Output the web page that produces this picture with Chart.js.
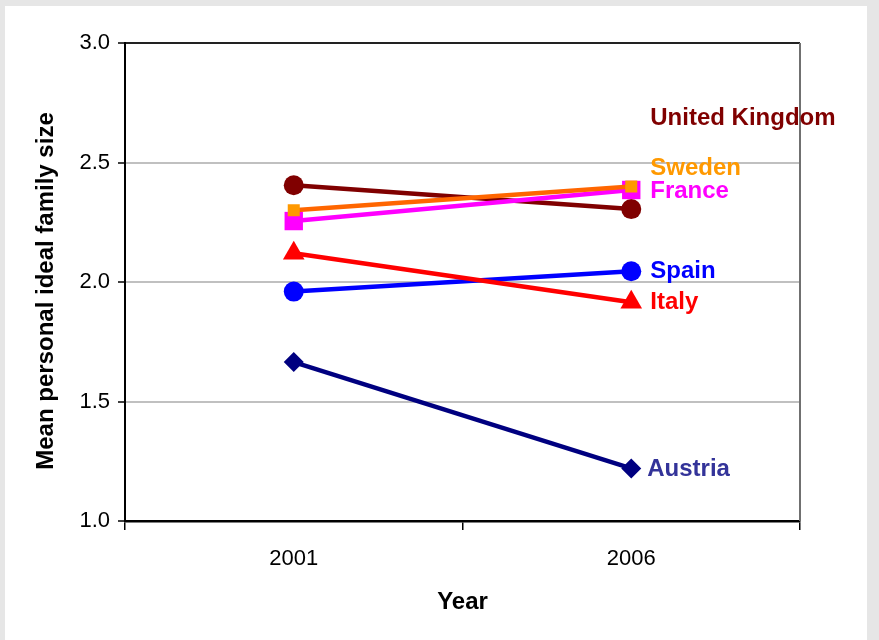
<!DOCTYPE html>
<html>
<head>
<meta charset="utf-8">
<script src="https://cdn.jsdelivr.net/npm/chart.js@4.4.1/dist/chart.umd.min.js"></script>
<style>
html,body{margin:0;padding:0;background:#e6e6e6;}
canvas{display:block;}
</style>
</head>
<body>
<canvas id="c" width="879" height="640"></canvas>
<script>
const years = ['2001', '2006'];
const countries = ['Sweden', 'France', 'United Kingdom', 'Italy', 'Spain', 'Austria'];
const sweden = [2.30, 2.40];
const france = [2.255, 2.385];
const unitedKingdom = [2.405, 2.305];
const italy = [2.12, 1.915];
const spain = [1.96, 2.045];
const austria = [1.665, 1.22];
const labelValues = [2.477, 2.381, 2.686, 1.916, 2.046, 1.218];
const yTicks = [1.0, 1.5, 2.0, 2.5, 3.0];

const lineColors = ['#FF6600', '#FF00FF', '#800000', '#FF0000', '#0000FF', '#000080'];
const pointColors = ['#FF9900', '#FF00FF', '#800000', '#FF0000', '#0000FF', '#000080'];
const labelColors = ['#FF9900', '#FF00FF', '#800000', '#FF0000', '#0000FF', '#333399'];
const pointStyles = ['rect', 'rect', 'circle', 'triangle', 'circle', 'rectRot'];
const pointRadii = [8.5, 13, 10, 12.5, 10, 10];
const seriesValues = [sweden, france, unitedKingdom, italy, spain, austria];

const FONT = '"Liberation Sans", Arial, sans-serif';

const bgPlugin = {
  id: 'bg',
  beforeDraw(chart) {
    const ctx = chart.ctx;
    ctx.save();
    ctx.fillStyle = '#e6e6e6';
    ctx.fillRect(0, 0, chart.width, chart.height);
    ctx.fillStyle = '#ffffff';
    ctx.fillRect(5, 6, 862, chart.height - 6);
    ctx.restore();
  },
  beforeDatasetsDraw(chart) {
    const ctx = chart.ctx;
    const a = chart.chartArea;
    ctx.save();
    ctx.strokeStyle = '#707070';
    ctx.lineWidth = 2;
    ctx.beginPath();
    ctx.moveTo(a.right, a.top);
    ctx.lineTo(a.right, a.bottom);
    ctx.stroke();
    ctx.restore();
  },
  afterDraw(chart) {
    const ctx = chart.ctx;
    const xs = chart.scales.x, ys = chart.scales.y;
    const a = chart.chartArea;
    ctx.save();
    ctx.font = 'bold 24px ' + FONT;
    ctx.textBaseline = 'middle';
    ctx.textAlign = 'left';
    countries.forEach((name, i) => {
      ctx.fillStyle = labelColors[i];
      const dx = name === 'Austria' ? 16 : 19;
      ctx.fillText(name, xs.getPixelForValue(1) + dx, ys.getPixelForValue(labelValues[i]));
    });
    ctx.fillStyle = '#000';
    ctx.font = 'bold 24px ' + FONT;
    ctx.textAlign = 'center';
    ctx.textBaseline = 'alphabetic';
    ctx.fillText('Year', (a.left + a.right) / 2, 609);
    ctx.translate(53, 291);
    ctx.rotate(-Math.PI / 2);
    ctx.fillText('Mean personal ideal family size', 0, 0);
    ctx.restore();
  }
};

new Chart(document.getElementById('c'), {
  type: 'line',
  data: {
    labels: years,
    datasets: countries.map((name, i) => ({
      label: name,
      data: seriesValues[i],
      borderColor: lineColors[i],
      backgroundColor: pointColors[i],
      pointBackgroundColor: pointColors[i],
      pointBorderColor: pointColors[i],
      pointBorderWidth: 0,
      pointStyle: pointStyles[i],
      pointRadius: pointRadii[i],
      pointHoverRadius: pointRadii[i],
      borderWidth: 4.5,
      fill: false,
      tension: 0
    }))
  },
  options: {
    responsive: false,
    animation: false,
    devicePixelRatio: 1,
    layout: { padding: { left: 0, top: 43, right: 79, bottom: 0 } },
    plugins: { legend: { display: false }, tooltip: { enabled: false }, title: { display: false } },
    scales: {
      x: {
        type: 'category',
        offset: true,
        afterFit(s) { s.height = 119; },
        grid: { offset: true, drawOnChartArea: false, drawTicks: true, tickLength: 9, color: '#000', lineWidth: 1.5 },
        border: { display: true, color: '#000', width: 2.5 },
        ticks: { color: '#000', font: { family: FONT, size: 22 }, padding: 16, maxRotation: 0 }
      },
      y: {
        min: 1, max: 3,
        afterFit(s) { s.width = 125; },
        afterBuildTicks(s) { s.ticks = yTicks.map(v => ({ value: v })); },
        grid: {
          color: ctx => (ctx.tick && ctx.tick.value === 3) ? '#222' : '#c0c0c0',
          lineWidth: 2,
          tickLength: 7,
          tickColor: '#000',
          tickWidth: 1.5
        },
        border: { display: true, color: '#000', width: 2 },
        ticks: { color: '#000', font: { family: FONT, size: 22 }, padding: 8, callback: v => Number(v).toFixed(1) }
      }
    }
  },
  plugins: [bgPlugin]
});
</script>
</body>
</html>
